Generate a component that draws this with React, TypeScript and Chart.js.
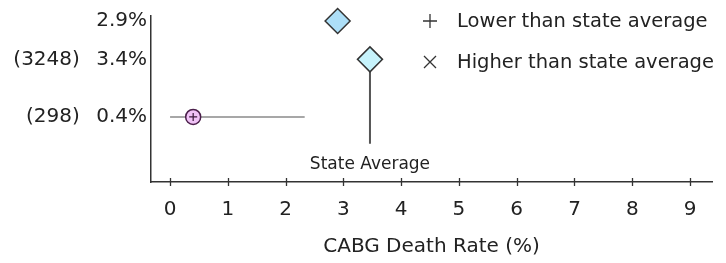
import React, { useEffect, useRef } from "react";
import { Chart, registerables } from "chart.js";

Chart.register(...registerables);

// Row labels (top to bottom)
const rowCounts: (number | null)[] = [null, 3248, 298];
const rowRates: string[] = ["2.9", "3.4", "0.4"];
// Marker values (CABG death rate, %)
const rowValues: number[] = [2.9, 3.46, 0.4];
// Confidence interval for the hospital row
const ciLow: (number | null)[] = [null, null, 0];
const ciHigh: (number | null)[] = [null, null, 2.33];
const stateAverage = 3.46;
const xTicks: number[] = [0, 1, 2, 3, 4, 5, 6, 7, 8, 9];
const legendLabels: string[] = ["Lower than state average", "Higher than state average"];
const axisTitle = "CABG Death Rate (%)";
const averageLabel = "State Average";

// layout constants (y positions of rows in axis units)
const rowPos: number[] = [0, 2, 5];
const avgLineEnd = 6.4;
const avgLabelPos = 7.5;

const FONT = "'DejaVu Sans', sans-serif";
const FS = 20;
const TEXT = "#222222";
const AXIS = "#333333";

const overlay = {
  id: "overlay",
  afterDraw(chart: any) {
    const { ctx, scales } = chart;
    const x = scales.x;
    const y = scales.y;
    ctx.save();
    // crossing ticks on x axis
    ctx.strokeStyle = AXIS;
    ctx.lineWidth = 1.3;
    const yb = chart.chartArea.bottom;
    xTicks.forEach((t) => {
      const px = Math.round(x.getPixelForValue(t)) + 0.5;
      ctx.beginPath();
      ctx.moveTo(px, yb - 4);
      ctx.lineTo(px, yb + 4);
      ctx.stroke();
    });
    // State average label
    ctx.fillStyle = TEXT;
    ctx.font = `17px ${FONT}`;
    ctx.textAlign = "center";
    ctx.textBaseline = "middle";
    ctx.fillText(averageLabel, x.getPixelForValue(stateAverage), y.getPixelForValue(avgLabelPos));
    // legend
    const lx = 430;
    const ly = [21, 62];
    ctx.strokeStyle = AXIS;
    ctx.lineWidth = 1.3;
    ctx.beginPath();
    ctx.moveTo(lx - 7, ly[0]);
    ctx.lineTo(lx + 7, ly[0]);
    ctx.moveTo(lx, ly[0] - 7);
    ctx.lineTo(lx, ly[0] + 7);
    ctx.moveTo(lx - 6, ly[1] - 6);
    ctx.lineTo(lx + 6, ly[1] + 6);
    ctx.moveTo(lx + 6, ly[1] - 6);
    ctx.lineTo(lx - 6, ly[1] + 6);
    ctx.stroke();
    ctx.font = `19.5px ${FONT}`;
    ctx.textAlign = "left";
    legendLabels.forEach((l, i) => ctx.fillText(l, 457, ly[i] + 1));
    ctx.restore();
  },
};

export default function App() {
  const ref = useRef<HTMLCanvasElement>(null);
  useEffect(() => {
    document.body.style.margin = "0";
    const avgRow = rowValues.indexOf(stateAverage);
    const ciData: any[] = [];
    ciLow.forEach((lo, i) => {
      if (lo !== null && ciHigh[i] !== null) {
        ciData.push({ x: lo, y: rowPos[i] }, { x: ciHigh[i], y: rowPos[i] });
      }
    });
    const chart = new Chart(ref.current!, {
      type: "scatter",
      data: {
        datasets: [
          {
            type: "line",
            data: ciData,
            borderColor: "#8a8a8a",
            borderWidth: 1.5,
            pointRadius: 0,
            order: 5,
            clip: false,
          } as any,
          {
            type: "line",
            data: [
              { x: stateAverage, y: rowPos[avgRow] },
              { x: stateAverage, y: avgLineEnd },
            ],
            borderColor: "#555555",
            borderWidth: 2,
            pointRadius: 0,
            order: 5,
            clip: false,
          } as any,
          {
            data: [{ x: rowValues[0], y: rowPos[0] }],
            pointStyle: "rectRot",
            pointRadius: 12.5,
            backgroundColor: "#addff8",
            borderColor: "#333333",
            borderWidth: 1.5,
            order: 1,
            clip: false,
          } as any,
          {
            data: [{ x: rowValues[1], y: rowPos[1] }],
            pointStyle: "rectRot",
            pointRadius: 12.5,
            backgroundColor: "#c6f3fc",
            borderColor: "#333333",
            borderWidth: 1.5,
            order: 1,
            clip: false,
          } as any,
          {
            data: [{ x: rowValues[2], y: rowPos[2] }],
            pointStyle: "circle",
            pointRadius: 7.5,
            backgroundColor: "#f0c2f6",
            borderColor: "#4a1f4a",
            borderWidth: 1.5,
            order: 1,
            clip: false,
          } as any,
          {
            data: [{ x: rowValues[2], y: rowPos[2] }],
            pointStyle: "cross",
            pointRadius: 4,
            borderColor: "#3a1a3a",
            borderWidth: 1.2,
            order: 0,
            clip: false,
          } as any,
        ],
      },
      options: {
        responsive: false,
        animation: false,
        events: [],
        layout: { padding: { top: 15, right: 14, left: 0, bottom: 0 } },
        plugins: { legend: { display: false }, tooltip: { enabled: false } },
        scales: {
          x: {
            type: "linear",
            min: -0.33,
            max: 9.38,
            afterBuildTicks: (s: any) => {
              s.ticks = xTicks.map((v) => ({ value: v }));
            },
            afterFit: (s: any) => {
              s.height = 81;
            },
            grid: { display: false, drawTicks: false },
            border: { display: true, color: AXIS, width: 1.5 },
            ticks: {
              color: TEXT,
              font: { family: FONT, size: FS },
              padding: 16,
              maxRotation: 0,
              autoSkip: false,
            },
            title: {
              display: true,
              text: axisTitle,
              color: TEXT,
              font: { family: FONT, size: FS },
              padding: { top: 0, bottom: 4 },
            },
          },
          y: {
            type: "linear",
            reverse: true,
            min: -0.26,
            max: 8.39,
            afterBuildTicks: (s: any) => {
              s.ticks = rowPos.map((v) => ({ value: v }));
            },
            afterFit: (s: any) => {
              s.width = 151;
            },
            grid: { display: false, drawTicks: false },
            border: { display: true, color: AXIS, width: 1.5 },
            ticks: {
              color: TEXT,
              font: { family: FONT, size: FS },
              padding: 4,
              autoSkip: false,
              callback: (v: any) => {
                const i = rowPos.indexOf(Number(v));
                if (i < 0) return "";
                const c = rowCounts[i];
                return (c !== null ? `(${c})\u2002 ` : "") + `${rowRates[i]}%`;
              },
            },
          },
        },
      },
      plugins: [overlay],
    });
    return () => chart.destroy();
  }, []);
  return <canvas ref={ref} width={726} height={263} style={{ display: "block" }} />;
}
